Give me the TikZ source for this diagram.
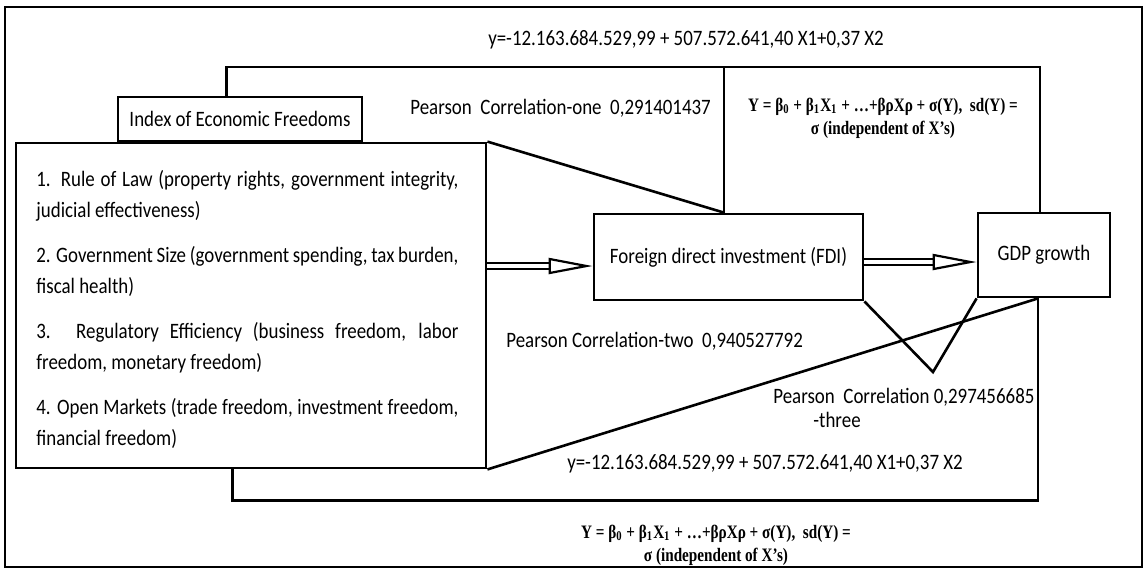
\documentclass[tikz,border=0pt]{standalone}
\usepackage{fontspec}
\setmainfont{Carlito}[FakeStretch=0.86]
\newfontfamily\modelfont{Liberation Serif}[FakeStretch=0.8]
\usetikzlibrary{arrows.meta,positioning,calc}

\tikzset{
  box/.style={draw, line width=1.4pt, inner sep=0pt, font=\fontsize{11}{12}\selectfont},
  link/.style={line width=1.3pt},
  dblarrow/.style={double, double distance=1.6pt, line width=1.1pt, -{Triangle[open,length=22pt,width=8pt]}},
  lbl/.style={inner sep=0pt, font=\fontsize{11}{12}\selectfont},
  model/.style={inner sep=0pt, align=center, font=\modelfont\bfseries\fontsize{9.5}{11.5}\selectfont}
}

\begin{document}
\begin{tikzpicture}[x=0.5pt,y=-0.5pt]
\useasboundingbox (0,0) rectangle (1145,570);
\draw[line width=1.2pt] (5,7) rectangle (1142,567);

% boxes
\node[box, minimum width=122pt, minimum height=22pt] (index) at (240,119) {Index of Economic Freedoms};
\node[box, minimum width=235pt, minimum height=162.5pt] (ief) at (251,305.5) {};
\node[anchor=north west, inner sep=0pt, text width=211pt, align=justify,
      font=\fontsize{11}{15.5}\selectfont,
      execute at begin node={\setlength{\parskip}{7pt}\setlength{\parindent}{0pt}}] (items) at (36,170)
  {1. Rule of Law (property rights, government integrity,\linebreak judicial effectiveness)\par
   2. Government Size (government spending, tax burden,\linebreak fiscal health)\par
   3. Regulatory Efficiency (business freedom, labor\linebreak freedom, monetary freedom)\par
   4. Open Markets (trade freedom, investment freedom,\linebreak financial freedom)};
\node[box, minimum width=134.5pt, minimum height=43pt] (fdi) at (728.5,257) {Foreign direct investment (FDI)};
\node[box, minimum width=66pt, minimum height=42pt] (gdp) at (1044,255) {GDP growth};

% labels
\node[lbl] (eqtop) at (686,40) {y=-12.163.684.529,99 + 507.572.641,40 X1+0,37 X2};
\node[lbl, anchor=west] (rone) at (410,108) {Pearson\ \ Correlation-one\ \ 0,291401437};
\node[lbl, anchor=west] (rtwo) at (506,341) {Pearson Correlation-two\ \ 0,940527792};
\node[lbl, anchor=north west, align=left] (rthree) at (773,388) {Pearson\ \ Correlation 0,297456685\\\hspace*{20pt}-three};
\node[lbl] (eqbot) at (765,464) {y=-12.163.684.529,99 + 507.572.641,40 X1+0,37 X2};
\node[model] (modtop) at (883,118) {Y = β\textsubscript{0} + β\textsubscript{1}X\textsubscript{1} + …+βρXρ + σ(Y),\ \ sd(Y) =\\σ (independent of X’s)};
\node[model] (modbot) at (716,545) {Y = β\textsubscript{0} + β\textsubscript{1}X\textsubscript{1} + …+βρXρ + σ(Y),\ \ sd(Y) =\\σ (independent of X’s)};

% connectors
\coordinate (topline) at (724,67);
\coordinate (vtx) at (933,372);
\draw[link] ([xshift=55pt]index.north west) |- (topline) -| ([xshift=-2pt]gdp.north);
\draw[link] (topline) -- (topline |- fdi.north);
\draw[link] (ief.north east) -- (topline |- fdi.north);
\draw[dblarrow] ([yshift=-4.5pt]fdi.west -| ief.east) -- ([yshift=-4.5pt]fdi.west);
\draw[dblarrow] ([yshift=-2.5pt]fdi.east) -- ([yshift=-2.5pt]fdi.east -| gdp.west);
\draw[link] (fdi.south east) -- (vtx) -- (gdp.south west);
\draw[link] (ief.south east) -- ([xshift=-3pt]gdp.south);
\draw[link] ([xshift=109pt]ief.south west) -- ++(0,31) -| ([xshift=-3pt]gdp.south);
\end{tikzpicture}
\end{document}
